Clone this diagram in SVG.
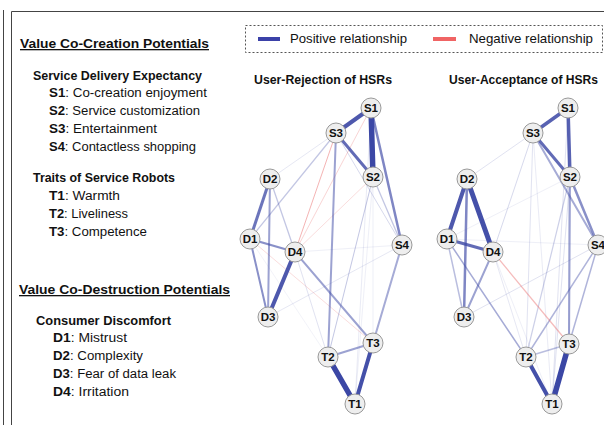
<svg xmlns="http://www.w3.org/2000/svg" width="604" height="425" viewBox="0 0 604 425">
<style>
text{font-family:"Liberation Sans",Arial,sans-serif;fill:#111}
.h{font-size:13px;font-weight:bold;text-decoration:underline}
.sh{font-size:12.5px;font-weight:bold}
.it{font-size:12.5px}
.it tspan.b{font-weight:bold}
.gt{font-size:12.5px;font-weight:bold;text-anchor:middle}
.lg{font-size:13px}
.nd circle{fill:#eeeeee;stroke:#999;stroke-width:1}
.nd text{font-size:11.5px;font-weight:bold;text-anchor:middle}
.e line{stroke:#3b47a5;stroke-linecap:round}
.e line.r{stroke:#e85a5a}
</style>
<line x1="3.5" y1="10" x2="3.5" y2="425" stroke="#444" stroke-width="1"/>
<path d="M11.5 425V11.5H604" fill="none" stroke="#444" stroke-width="1"/>

<g id="legend">
<rect x="245.5" y="25.5" width="357" height="27" fill="none" stroke="#555" stroke-width="1" stroke-dasharray="2,2"/>
<line x1="258" y1="39" x2="280" y2="39" stroke="#3b41a8" stroke-width="4"/>
<text class="lg" x="290" y="43" textLength="117" lengthAdjust="spacingAndGlyphs">Positive relationship</text>
<line x1="433" y1="39" x2="456" y2="39" stroke="#f06464" stroke-width="4"/>
<text class="lg" x="469" y="43" textLength="124" lengthAdjust="spacingAndGlyphs">Negative relationship</text>
</g>

<g id="text-panel">
<text class="h" x="20" y="48" textLength="189" lengthAdjust="spacingAndGlyphs">Value Co-Creation Potentials</text>
<text class="sh" x="33" y="80" textLength="169" lengthAdjust="spacingAndGlyphs">Service Delivery Expectancy</text>
<text class="it" x="49" y="97" textLength="158" lengthAdjust="spacingAndGlyphs"><tspan class="b">S1</tspan>: Co-creation enjoyment</text>
<text class="it" x="49" y="115" textLength="151" lengthAdjust="spacingAndGlyphs"><tspan class="b">S2</tspan>: Service customization</text>
<text class="it" x="49" y="133" textLength="108" lengthAdjust="spacingAndGlyphs"><tspan class="b">S3</tspan>: Entertainment</text>
<text class="it" x="49" y="151" textLength="147" lengthAdjust="spacingAndGlyphs"><tspan class="b">S4</tspan>: Contactless shopping</text>
<text class="sh" x="33" y="182" textLength="142" lengthAdjust="spacingAndGlyphs">Traits of Service Robots</text>
<text class="it" x="49" y="200" textLength="71" lengthAdjust="spacingAndGlyphs"><tspan class="b">T1</tspan>: Warmth</text>
<text class="it" x="49" y="218" textLength="79" lengthAdjust="spacingAndGlyphs"><tspan class="b">T2</tspan>: Liveliness</text>
<text class="it" x="49" y="236" textLength="98" lengthAdjust="spacingAndGlyphs"><tspan class="b">T3</tspan>: Competence</text>
<text class="h" x="19" y="294" textLength="211" lengthAdjust="spacingAndGlyphs">Value Co-Destruction Potentials</text>
<text class="sh" x="36" y="325" textLength="135" lengthAdjust="spacingAndGlyphs">Consumer Discomfort</text>
<text class="it" x="53" y="342" textLength="74" lengthAdjust="spacingAndGlyphs"><tspan class="b">D1</tspan>: Mistrust</text>
<text class="it" x="53" y="360" textLength="90" lengthAdjust="spacingAndGlyphs"><tspan class="b">D2</tspan>: Complexity</text>
<text class="it" x="53" y="378" textLength="123" lengthAdjust="spacingAndGlyphs"><tspan class="b">D3</tspan>: Fear of data leak</text>
<text class="it" x="53" y="396" textLength="76" lengthAdjust="spacingAndGlyphs"><tspan class="b">D4</tspan>: Irritation</text>
</g>

<text class="gt" x="323" y="84" textLength="138" lengthAdjust="spacingAndGlyphs">User-Rejection of HSRs</text>
<text class="gt" x="523.5" y="84" textLength="149" lengthAdjust="spacingAndGlyphs">User-Acceptance of HSRs</text>

<g id="connectors-rejection" class="e">
<line x1="373" y1="177" x2="328" y2="357" stroke-width="1" opacity="0.3"/>
<line x1="371" y1="108" x2="355" y2="404" stroke-width="1" opacity="0.1"/>
<line x1="373" y1="177" x2="355" y2="404" stroke-width="1" opacity="0.08"/>
<line x1="373" y1="177" x2="373" y2="343" stroke-width="1" opacity="0.08"/>
<line x1="336" y1="133" x2="270" y2="179" stroke-width="1" opacity="0.12"/>
<line x1="336" y1="133" x2="250" y2="239" stroke-width="1.3" opacity="0.3"/>
<line x1="336" y1="133" x2="402" y2="245" stroke-width="1" opacity="0.2"/>
<line x1="268" y1="317" x2="402" y2="245" stroke-width="1" opacity="0.12"/>
<line x1="295" y1="252" x2="402" y2="245" stroke-width="1" opacity="0.08"/>
<line x1="295" y1="252" x2="328" y2="357" stroke-width="1" opacity="0.15"/>
<line x1="250" y1="239" x2="328" y2="357" stroke-width="1" opacity="0.06"/>
<line x1="373" y1="177" x2="402" y2="245" stroke-width="1.3" opacity="0.3"/>
<line x1="270" y1="179" x2="295" y2="252" stroke-width="1.3" opacity="0.3"/>
<line class="r" x1="336" y1="133" x2="295" y2="252" stroke-width="1" opacity="0.45"/>
<line class="r" x1="371" y1="108" x2="295" y2="252" stroke-width="1" opacity="0.25"/>
<line class="r" x1="373" y1="177" x2="295" y2="252" stroke-width="1" opacity="0.2"/>
<line class="r" x1="250" y1="239" x2="373" y2="343" stroke-width="1" opacity="0.2"/>
<line x1="371" y1="108" x2="402" y2="245" stroke-width="2.5" opacity="0.65"/>
<line x1="336" y1="133" x2="328" y2="357" stroke-width="2" opacity="0.5"/>
<line x1="295" y1="252" x2="373" y2="343" stroke-width="2" opacity="0.5"/>
<line x1="328" y1="357" x2="373" y2="343" stroke-width="2" opacity="0.5"/>
<line x1="402" y1="245" x2="373" y2="343" stroke-width="2" opacity="0.45"/>
<line x1="250" y1="239" x2="268" y2="317" stroke-width="2" opacity="0.6"/>
<line x1="270" y1="179" x2="268" y2="317" stroke-width="2" opacity="0.5"/>
<line x1="250" y1="239" x2="295" y2="252" stroke-width="2" opacity="0.6"/>
<line x1="270" y1="179" x2="250" y2="239" stroke-width="3" opacity="0.75"/>
<line x1="295" y1="252" x2="268" y2="317" stroke-width="4" opacity="0.9"/>
<line x1="336" y1="133" x2="373" y2="177" stroke-width="3" opacity="0.8"/>
<line x1="371" y1="108" x2="336" y2="133" stroke-width="4" opacity="0.9"/>
<line x1="371" y1="108" x2="373" y2="177" stroke-width="5.5" opacity="1"/>
<line x1="373" y1="343" x2="355" y2="404" stroke-width="4" opacity="0.95"/>
<line x1="328" y1="357" x2="355" y2="404" stroke-width="5.5" opacity="1"/>
</g>

<g id="connectors-acceptance" class="e">
<line x1="533" y1="133" x2="467" y2="179" stroke-width="1" opacity="0.15"/>
<line x1="533" y1="133" x2="493" y2="252" stroke-width="1" opacity="0.2"/>
<line x1="464" y1="317" x2="598" y2="245" stroke-width="1" opacity="0.15"/>
<line x1="447" y1="239" x2="598" y2="245" stroke-width="1" opacity="0.08"/>
<line x1="447" y1="239" x2="570" y2="177" stroke-width="1" opacity="0.08"/>
<line x1="568" y1="108" x2="552" y2="404" stroke-width="1" opacity="0.15"/>
<line x1="568" y1="108" x2="569" y2="344" stroke-width="1" opacity="0.15"/>
<line x1="533" y1="133" x2="552" y2="404" stroke-width="1" opacity="0.1"/>
<line x1="533" y1="133" x2="526" y2="357" stroke-width="1" opacity="0.15"/>
<line x1="570" y1="177" x2="526" y2="357" stroke-width="1.2" opacity="0.25"/>
<line x1="570" y1="177" x2="552" y2="404" stroke-width="1" opacity="0.15"/>
<line x1="493" y1="252" x2="526" y2="357" stroke-width="1" opacity="0.12"/>
<line x1="493" y1="252" x2="552" y2="404" stroke-width="1" opacity="0.08"/>
<line x1="447" y1="239" x2="464" y2="317" stroke-width="1.5" opacity="0.35"/>
<line x1="447" y1="239" x2="526" y2="357" stroke-width="1.5" opacity="0.45"/>
<line x1="526" y1="357" x2="569" y2="344" stroke-width="1.5" opacity="0.35"/>
<line x1="598" y1="245" x2="526" y2="357" stroke-width="1.5" opacity="0.4"/>
<line x1="598" y1="245" x2="569" y2="344" stroke-width="1.5" opacity="0.4"/>
<line class="r" x1="493" y1="252" x2="569" y2="344" stroke-width="1.3" opacity="0.4"/>
<line x1="570" y1="177" x2="569" y2="344" stroke-width="2" opacity="0.5"/>
<line x1="533" y1="133" x2="598" y2="245" stroke-width="2" opacity="0.45"/>
<line x1="570" y1="177" x2="598" y2="245" stroke-width="2.5" opacity="0.6"/>
<line x1="493" y1="252" x2="464" y2="317" stroke-width="2" opacity="0.5"/>
<line x1="467" y1="179" x2="464" y2="317" stroke-width="2.5" opacity="0.65"/>
<line x1="447" y1="239" x2="493" y2="252" stroke-width="3" opacity="0.8"/>
<line x1="467" y1="179" x2="447" y2="239" stroke-width="4" opacity="0.9"/>
<line x1="467" y1="179" x2="493" y2="252" stroke-width="5" opacity="0.95"/>
<line x1="533" y1="133" x2="570" y2="177" stroke-width="3" opacity="0.8"/>
<line x1="568" y1="108" x2="533" y2="133" stroke-width="3.5" opacity="0.85"/>
<line x1="568" y1="108" x2="570" y2="177" stroke-width="3.5" opacity="0.85"/>
<line x1="526" y1="357" x2="552" y2="404" stroke-width="4" opacity="0.95"/>
<line x1="569" y1="344" x2="552" y2="404" stroke-width="5.5" opacity="1"/>
</g>

<g id="rej-S1" class="nd"><circle cx="371" cy="108" r="10"/><text x="371" y="112">S1</text></g>
<g id="rej-S3" class="nd"><circle cx="336" cy="133" r="10"/><text x="336" y="137">S3</text></g>
<g id="rej-S2" class="nd"><circle cx="373" cy="177" r="10"/><text x="373" y="181">S2</text></g>
<g id="rej-D2" class="nd"><circle cx="270" cy="179" r="10"/><text x="270" y="183">D2</text></g>
<g id="rej-D1" class="nd"><circle cx="250" cy="239" r="10"/><text x="250" y="243">D1</text></g>
<g id="rej-D4" class="nd"><circle cx="295" cy="252" r="10"/><text x="295" y="256">D4</text></g>
<g id="rej-S4" class="nd"><circle cx="402" cy="245" r="10"/><text x="402" y="249">S4</text></g>
<g id="rej-D3" class="nd"><circle cx="268" cy="317" r="10"/><text x="268" y="321">D3</text></g>
<g id="rej-T2" class="nd"><circle cx="328" cy="357" r="10"/><text x="328" y="361">T2</text></g>
<g id="rej-T3" class="nd"><circle cx="373" cy="343" r="10"/><text x="373" y="347">T3</text></g>
<g id="rej-T1" class="nd"><circle cx="355" cy="404" r="10"/><text x="355" y="408">T1</text></g>

<g id="acc-S1" class="nd"><circle cx="568" cy="108" r="10"/><text x="568" y="112">S1</text></g>
<g id="acc-S3" class="nd"><circle cx="533" cy="133" r="10"/><text x="533" y="137">S3</text></g>
<g id="acc-S2" class="nd"><circle cx="570" cy="177" r="10"/><text x="570" y="181">S2</text></g>
<g id="acc-D2" class="nd"><circle cx="467" cy="179" r="10"/><text x="467" y="183">D2</text></g>
<g id="acc-D1" class="nd"><circle cx="447" cy="239" r="10"/><text x="447" y="243">D1</text></g>
<g id="acc-D4" class="nd"><circle cx="493" cy="252" r="10"/><text x="493" y="256">D4</text></g>
<g id="acc-S4" class="nd"><circle cx="598" cy="245" r="10"/><text x="598" y="249">S4</text></g>
<g id="acc-D3" class="nd"><circle cx="464" cy="317" r="10"/><text x="464" y="321">D3</text></g>
<g id="acc-T2" class="nd"><circle cx="526" cy="357" r="10"/><text x="526" y="361">T2</text></g>
<g id="acc-T3" class="nd"><circle cx="569" cy="344" r="10"/><text x="569" y="348">T3</text></g>
<g id="acc-T1" class="nd"><circle cx="552" cy="404" r="10"/><text x="552" y="408">T1</text></g>
</svg>
